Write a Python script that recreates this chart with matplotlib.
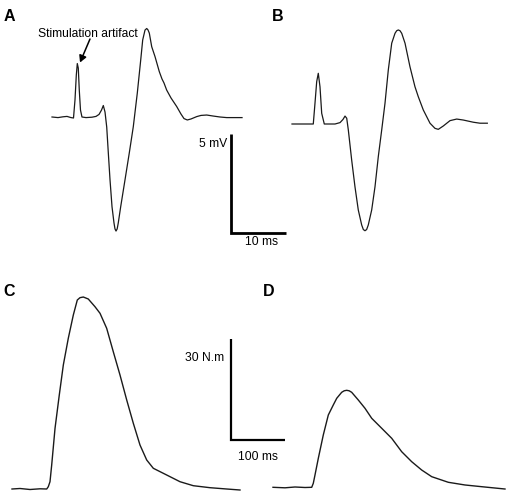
import matplotlib
matplotlib.use("Agg")
import matplotlib.pyplot as plt

# ---------------- data ----------------
# Panel A: compound action potential (time in ms, amplitude in mV)
a_time = [0.00, 1.09, 2.00, 2.73, 3.45, 3.91, 4.18, 4.42, 4.60, 4.78, 4.96, 5.18, 5.45,
          6.18, 7.27, 8.00, 8.55, 9.00, 9.33, 9.64, 9.95, 10.24, 10.55, 10.91, 11.27,
          11.45, 11.64, 11.85, 12.05, 12.49, 13.27, 14.05, 14.78, 15.51, 16.13, 16.49,
          16.91, 17.22, 17.45, 17.69, 18.13, 18.73, 19.51, 20.00, 20.36, 20.85, 21.64,
          22.67, 23.45, 24.00, 24.60, 25.27, 26.31, 27.09, 28.13, 29.27, 30.55, 31.76,
          33.09, 34.55]
a_volt = [0.00, -0.03, 0.01, 0.03, -0.03, -0.05, 0.86, 2.12, 2.70, 2.47, 1.36, 0.35, 0.00,
          -0.03, -0.01, 0.03, 0.13, 0.35, 0.58, 0.25, -0.51, -1.82, -3.18, -4.53, -5.35,
          -5.65, -5.76, -5.65, -5.35, -4.53, -3.18, -1.82, -0.49, 1.21, 2.88, 3.89,
          4.39, 4.47, 4.40, 4.24, 3.55, 3.05, 2.29, 1.92, 1.72, 1.36, 0.96,
          0.53, 0.15, -0.08, -0.15, -0.10, 0.02, 0.08, 0.10, 0.05, 0.00, -0.03,
          -0.03, -0.03]

# Panel B
b_time = [0.00, 1.45, 3.87, 4.18, 4.49, 4.78, 5.09, 5.40, 5.87, 7.82, 8.73, 9.27, 9.64,
          9.95, 10.24, 10.85, 11.45, 12.05, 12.67, 12.97, 13.27, 13.57, 13.87, 14.49,
          15.09, 15.69, 16.31, 16.91, 17.51, 18.13, 18.73, 19.03, 19.33, 19.64, 19.95,
          20.55, 21.45, 22.36, 22.96, 23.87, 25.09, 26.00, 26.60, 27.51, 28.73, 29.95,
          31.15, 32.96, 34.18, 35.51]
b_volt = [0.00, 0.00, 0.00, 1.05, 2.14, 2.56, 1.88, 0.54, 0.00, 0.00, 0.07, 0.23, 0.40,
          0.29, -0.30, -1.82, -3.17, -4.34, -5.10, -5.33, -5.39, -5.33, -5.10, -4.34,
          -3.17, -1.65, -0.30, 1.05, 2.73, 4.08, 4.58, 4.71, 4.75, 4.71, 4.58,
          4.08, 2.89, 1.88, 1.38, 0.71, 0.04, -0.22, -0.27, -0.10, 0.17, 0.25,
          0.20, 0.09, 0.04, 0.04]

# Panel C: twitch torque (time in ms, torque in N.m)
c_time = [0.0, 14.7, 33.0, 51.3, 63.6, 66.5, 69.6, 72.7, 78.8, 86.6, 94.0, 103.1, 112.3,
          119.6, 124.5, 130.6, 139.7, 152.0, 161.2, 173.4, 185.5, 197.8, 210.1, 222.2,
          234.4, 246.7, 258.8, 283.3, 307.7, 332.1, 362.6, 393.2, 417.6]
c_torque = [0.00, 0.15, -0.15, 0.06, 0.00, 0.69, 2.17, 7.15, 18.08, 28.00, 36.94, 44.89,
            51.83, 56.30, 56.99, 57.19, 56.60, 54.30, 52.34, 47.87, 40.90, 33.96, 26.51,
            19.57, 13.11, 8.64, 6.17, 4.17, 2.17, 0.98, 0.39, 0.00, -0.30]

# Panel D
d_time = [0.0, 22.0, 40.3, 58.6, 70.9, 73.8, 76.9, 83.0, 92.1, 101.3, 110.4, 116.7, 125.8,
          130.4, 135.0, 139.5, 144.1, 156.2, 168.5, 180.8, 199.1, 217.4, 235.7, 254.0,
          272.3, 290.7, 321.1, 351.6, 382.2, 424.9]
d_torque = [0.00, -0.15, 0.09, -0.06, 0.00, 1.19, 3.66, 8.64, 15.58, 21.54, 24.52, 26.51,
            28.30, 28.75, 28.89, 28.75, 28.30, 26.01, 23.53, 20.55, 17.58, 14.60, 10.60,
            7.63, 5.15, 3.16, 1.49, 0.69, 0.18, -0.51]

panel_labels = ["A", "B", "C", "D"]
emg_scale = (10, 5)        # ms, mV
torque_scale = (100, 30)   # ms, N.m

# ---------------- layout ----------------
W, H = 509, 496
fig = plt.figure(figsize=(W / 100, H / 100), dpi=100)
fig.patch.set_facecolor("white")
FONT = "Liberation Sans"


def overlay(x0, y0, ppx, ppy):
    """Full-figure transparent axes whose data origin sits at pixel (x0, y0 from top)."""
    ax = fig.add_axes([0, 0, 1, 1])
    ax.set_xlim(-x0 / ppx, (W - x0) / ppx)
    ax.set_ylim(-(H - y0) / ppy, y0 / ppy)
    ax.axis("off")
    ax.patch.set_alpha(0)
    return ax


def fx(px):
    return px / W


def fy(py):
    return 1 - py / H


EMG_PPX, EMG_PPY = 5.5, 19.8
TQ_PPX, TQ_PPY = 0.546, 3.357
trace_col = "#1a1a1a"

axA = overlay(52, 117, EMG_PPX, EMG_PPY)
axA.plot(a_time, a_volt, color=trace_col, lw=0.9, solid_joinstyle="round")
axB = overlay(292, 124, EMG_PPX, EMG_PPY)
axB.plot(b_time, b_volt, color=trace_col, lw=0.9, solid_joinstyle="round")
axC = overlay(12, 489, TQ_PPX, TQ_PPY)
axC.plot(c_time, c_torque, color=trace_col, lw=1.0, solid_joinstyle="round")
axD = overlay(273, 487.3, TQ_PPX, TQ_PPY)
axD.plot(d_time, d_torque, color=trace_col, lw=1.0, solid_joinstyle="round")

# scale bars
t0, v0 = 32.5, -5.84
axA.plot([t0, t0, t0 + emg_scale[0]], [v0 + emg_scale[1], v0, v0],
         color="black", lw=2.0, solid_joinstyle="miter", solid_capstyle="butt")
t1, v1 = 400.5, 14.6
axC.plot([t1, t1, t1 + torque_scale[0]], [v1 + torque_scale[1], v1, v1],
         color="black", lw=1.6, solid_joinstyle="miter", solid_capstyle="butt")

fs = 8.7
fig.text(fx(227), fy(147), f"{emg_scale[1]} mV", ha="right", va="baseline",
         fontsize=fs, family=FONT)
fig.text(fx(262), fy(245.5), f"{emg_scale[0]} ms", ha="center", va="baseline",
         fontsize=fs, family=FONT)
fig.text(fx(224), fy(361), f"{torque_scale[1]} N.m", ha="right", va="baseline",
         fontsize=fs, family=FONT)
fig.text(fx(258.5), fy(459.5), f"{torque_scale[0]} ms", ha="center", va="baseline",
         fontsize=fs, family=FONT)

# panel letters
for lab, (px, py) in zip(panel_labels, [(4, 21), (272, 21), (3, 295.5), (263, 295.5)]):
    fig.text(fx(px), fy(py), lab, ha="left", va="baseline", fontsize=11.5,
             fontweight="bold", family=FONT)

# annotation
fig.text(fx(38), fy(37), "Stimulation artifact", ha="left", va="baseline",
         fontsize=fs, family=FONT)
fig.add_artist(matplotlib.patches.FancyArrowPatch(
    (fx(90), fy(39)), (fx(80), fy(62.5)), transform=fig.transFigure,
    arrowstyle="-|>,head_length=4,head_width=2.2", color="black", lw=1.1,
    shrinkA=0, shrinkB=0))

fig.savefig("out.png", dpi=100, facecolor="white")
